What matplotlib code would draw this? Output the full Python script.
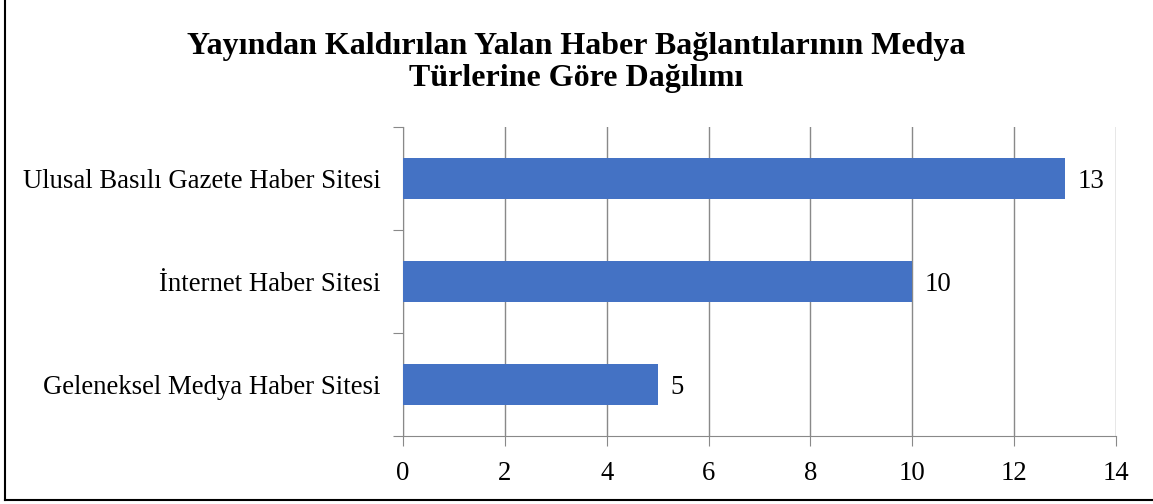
import matplotlib.pyplot as plt
from matplotlib.lines import Line2D

categories = ['Geleneksel Medya Haber Sitesi', 'İnternet Haber Sitesi', 'Ulusal Basılı Gazete Haber Sitesi']
values = [5, 10, 13]
xticks = [0, 2, 4, 6, 8, 10, 12, 14]

plt.rcParams['font.family'] = ['Liberation Serif', 'DejaVu Serif']

fig = plt.figure(figsize=(11.53, 5.04), dpi=100)
ax = fig.add_axes([0.3495, 0.135, 0.6185, 0.613])

pos = range(len(categories))
ax.barh(pos, values, height=0.4, color='#4472C4', zorder=3)
for p, v in zip(pos, values):
    ax.text(v + 0.25, p - 0.03, str(v), va='center', ha='left', fontsize=19.3)

ax.set_xlim(0, 14)
ax.set_ylim(-0.5, 2.5)
ax.set_xticks(xticks)
ax.set_xticklabels([str(t) for t in xticks], fontsize=19.3)
ax.set_yticks([-0.5, 0.5, 1.5, 2.5])
ax.set_yticklabels([])
ax.set_yticks(list(pos), minor=True)
ax.set_yticklabels(categories, minor=True, fontsize=19.3)
ax.tick_params(axis='y', which='minor', length=0, pad=16)
ax.tick_params(axis='y', which='major', length=7, color='#898989')
ax.tick_params(axis='x', length=7, color='#898989', pad=11)
ax.grid(axis='x', color='#898989', linewidth=1, zorder=0)
for s in ['top', 'right']:
    ax.spines[s].set_visible(False)
for s in ['left', 'bottom']:
    ax.spines[s].set_color('#898989')

fig.text(0.5, 0.876, 'Yayından Kaldırılan Yalan Haber Bağlantılarının Medya\nTürlerine Göre Dağılımı',
         ha='center', va='center', fontsize=23, fontweight='bold', linespacing=1.16)

# outer border (left and bottom only)
fig.add_artist(Line2D([0.0045, 0.0045], [0.008, 1.0], color='black', linewidth=1.5, transform=fig.transFigure))
fig.add_artist(Line2D([0.0045, 1.0], [0.008, 0.008], color='black', linewidth=1.5, transform=fig.transFigure))

fig.savefig('out.png', dpi=100)
